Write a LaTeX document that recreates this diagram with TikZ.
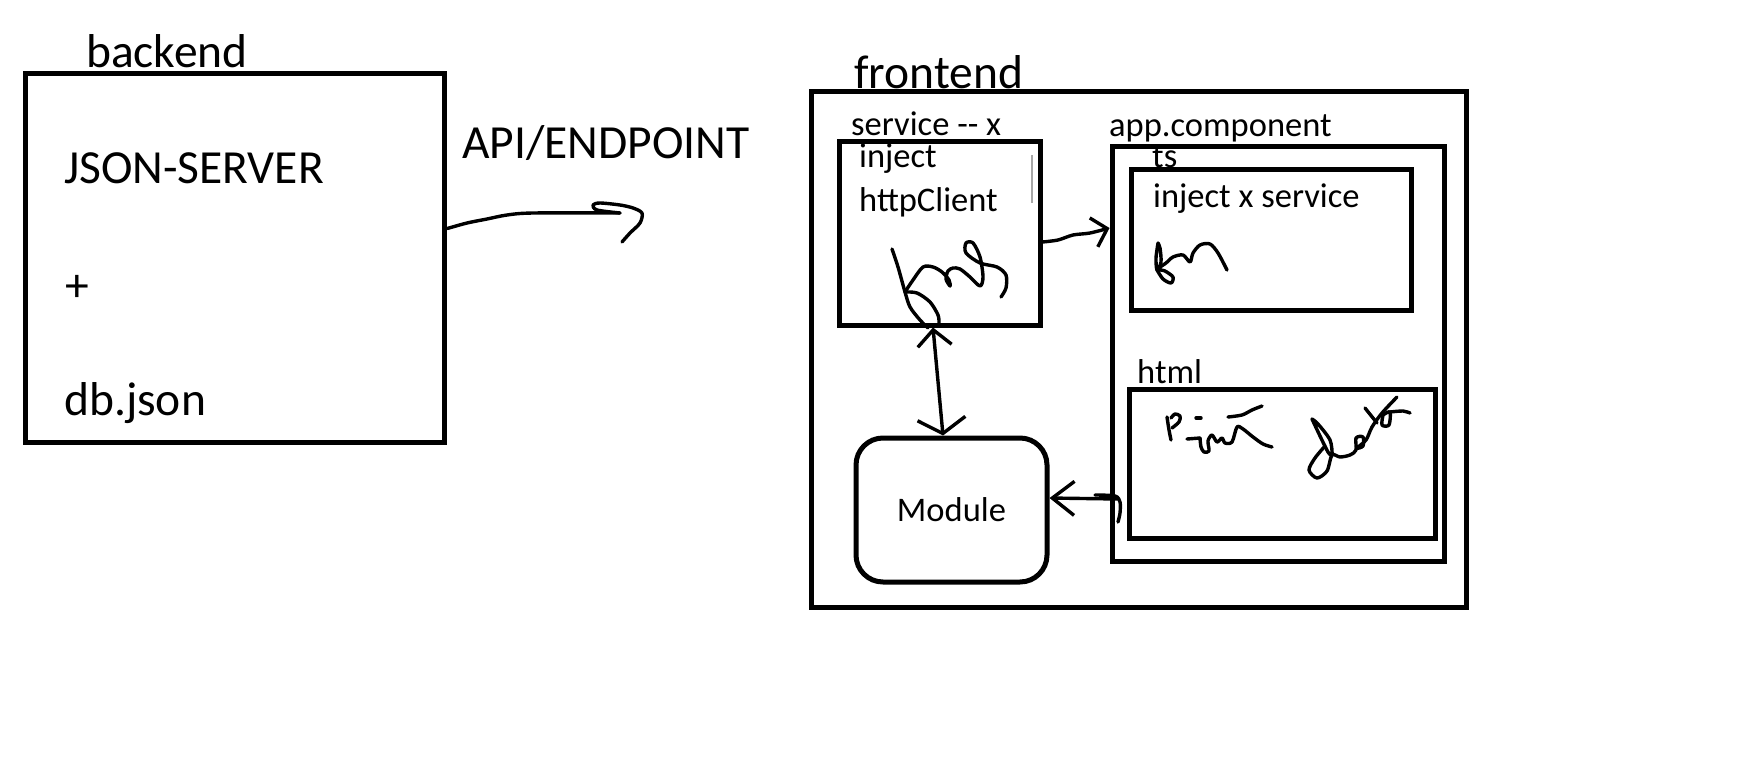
\documentclass[tikz,border=0pt]{standalone}
\usepackage{fontspec}
\setmainfont{Carlito}
\usetikzlibrary{arrows.meta}
\tikzset{
  box/.style={draw, line width=5pt, inner sep=0pt},
  bigtext/.style={font=\fontsize{47.5pt}{50pt}\selectfont, inner sep=0pt, anchor=base west},
  smalltext/.style={font=\fontsize{34.5pt}{36pt}\selectfont, inner sep=0pt, anchor=base west},
  pen/.style={line width=3.4pt, line cap=round, line join=round},
}
\begin{document}
\begin{tikzpicture}[x=1pt,y=-1pt]
	\useasboundingbox (0,0) rectangle (1745,774);
	\node [box, minimum width=419pt, minimum height=369pt] (backend) at (235.3,257.5) {};
	\node [bigtext] (backendlbl) at (86,67) {backend};
	\node [bigtext] (jsonserver) at (64,183) {JSON-SERVER};
	\node [bigtext] (plus) at (65,301) {+};
	\node [bigtext] (dbjson) at (64,415) {db.json};
	\node [bigtext] (apilbl) at (462,158) {API/ENDPOINT};
	\node [box, minimum width=655pt, minimum height=516pt] (frontend) at (1138.5,349) {};
	\node [bigtext] (frontendlbl) at (854,88) {frontend};
	\node [box, minimum width=201pt, minimum height=184pt] (service) at (939.5,233) {};
	\node [smalltext] (servicelbl) at (851,135) {service -{}- x};
	\node [smalltext] (injectlbl) at (859,167) {inject};
	\node [smalltext] (httplbl) at (859,211) {httpClient};
	\node [box, minimum width=332pt, minimum height=415pt] (app) at (1278,353.5) {};
	\node [smalltext] (applbl) at (1109,136) {app.component};
	\node [box, minimum width=280pt, minimum height=141pt] (ts) at (1271,239.5) {};
	\node [smalltext] (tslbl) at (1152,167) {ts};
	\node [smalltext] (injectsvc) at (1153,207) {inject x service};
	\node [box, minimum width=306pt, minimum height=149pt] (html) at (1282,463.5) {};
	\node [smalltext] (htmllbl) at (1137,383) {html};
	\node [box, rounded corners=27pt, minimum width=191pt, minimum height=144pt, font=\fontsize{34.5pt}{36pt}\selectfont] (module) at (951.5,510) {Module};
	\coordinate (apihead) at (620,213);
	\draw [pen] plot [smooth] coordinates {([yshift=29pt]backend.east) (467,223) (487,219) (507,215) (533,213) (apihead)};
	\draw [pen] plot [smooth] coordinates {(apihead) (597,210) (593,205) (600,203) (620,205) (633,208) (642,213) (640,223) (630,233) (622,242)};
	\draw [pen, -{Straight Barb[length=14pt,width=30pt]}] plot [smooth] coordinates {([yshift=-9pt]service.east) (1058,240) (1073,235) (1090,233) ([yshift=125.5pt]app.west)};
	\draw [pen, {Straight Barb[length=16pt,width=34pt]}-{Straight Barb[length=15pt,width=48pt]}] ([xshift=-6.5pt]service.south) -- ([xshift=-8.5pt]module.north);
	\draw [pen, {Straight Barb[length=22pt,width=34pt]}-] ([yshift=12pt]module.east) -- ([xshift=-9pt,yshift=-35.5pt]html.west);
	\draw [pen] plot [smooth] coordinates {(1095,495) (1115,496) (1120,502) (1120,513) (1118,522)};
	\draw [gray!70, line width=1.5pt] (1032,155) -- (1032,203);
	\draw [pen] plot [smooth] coordinates {(892,249) (898,267) (905,292) (910,307) (920,320) (928,328)};
	\draw [pen] plot [smooth] coordinates {(905,292) (913,280) (923,267) (933,267) (942,272) (949,280) (950,286) (946,279) (948,271) (953,268) (960,269) (970,277) (980,286) (983,277) (980,257) (973,243) (966,243) (966,253) (980,263) (997,267) (1006,275) (1006,288) (1001,297)};
	\draw [pen] plot [smooth] coordinates {(905,292) (917,293) (930,302) (938,315) (939,323)};
	\draw [pen] plot [smooth] coordinates {(1158,243) (1156,258) (1157,270) (1161,262) (1160,248) (1158,243)};
	\draw [pen] plot [smooth] coordinates {(1157,270) (1163,279) (1171,283) (1173,277) (1165,271) (1158,269) (1166,263) (1173,257) (1183,255) (1190,262) (1193,253) (1200,245) (1210,244) (1218,253) (1227,270)};
	\draw [pen] plot [smooth] coordinates {(1167,417) (1169,430) (1171,440)};
	\draw [pen] plot [smooth] coordinates {(1171,418) (1175,414) (1180,416) (1179,422) (1172,428)};
	\draw [pen] (1196,418) -- (1201,418);
	\draw [pen] (1187,439) -- (1200,438);
	\draw [pen] plot [smooth] coordinates {(1200,438) (1201,447) (1204,452) (1209,451) (1208,441) (1212,435) (1217,442) (1222,438) (1225,443) (1232,442) (1237,427) (1243,429) (1253,437) (1263,444) (1272,447)};
	\draw [pen] plot [smooth] coordinates {(1228,417) (1242,415) (1252,410) (1262,406)};
	\draw [pen] plot [smooth] coordinates {(1312,419) (1320,436) (1328,452) (1332,455) (1330,440) (1318,424) (1312,419)};
	\draw [pen] plot [smooth] coordinates {(1325,446) (1315,458) (1309,470) (1317,478) (1327,471) (1332,455) (1340,457) (1350,455) (1356,450) (1356,438) (1363,437) (1363,446) (1357,448) (1366,440) (1372,427) (1382,413) (1397,397)};
	\draw [pen] (1365,408) -- (1377,423);
	\draw [pen] plot [smooth] coordinates {(1383,415) (1390,412) (1389,425) (1382,425) (1383,415)};
	\draw [pen] plot [smooth] coordinates {(1390,412) (1403,411) (1410,413)};
\end{tikzpicture}
\end{document}
